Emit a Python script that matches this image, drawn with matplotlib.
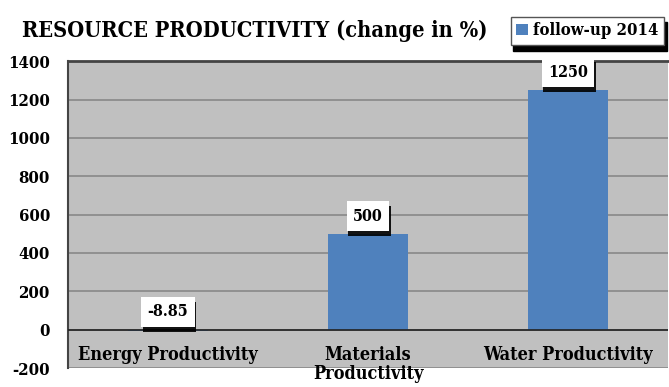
import matplotlib.pyplot as plt
import matplotlib.patheffects as pe
import numpy as np

categories = ['Energy Productivity', 'Materials\nProductivity', 'Water Productivity']
values = [-8.85, 500, 1250]
value_labels = ['-8.85', '500', '1250']
series_name = 'follow-up 2014'
yticks = [-200, 0, 200, 400, 600, 800, 1000, 1200, 1400]

FONT = dict(fontfamily='DejaVu Serif', fontweight='bold', fontstretch='condensed')
BAR = '#4f81bd'

fig = plt.figure(figsize=(6.69, 3.87), dpi=100)
ax = fig.add_axes([0.1016, 0.049, 0.897, 0.793])
ax.set_facecolor('#c0c0c0')

x = np.arange(len(categories))
bars = ax.bar(x, values, width=0.4, color=BAR, label=series_name, zorder=3)

ax.set_xlim(-0.5, 2.5)
ax.set_ylim(-200, 1400)
ax.set_yticks(yticks)
ax.set_yticklabels([str(t) for t in yticks], fontsize=12, **FONT)
ax.tick_params(axis='y', length=0, pad=13)
ax.set_xticks([])
ax.grid(axis='y', color='#888888', linewidth=1.2, zorder=1)
ax.axhline(0, color='#222222', linewidth=1.2, zorder=4)

for side in ['right', 'bottom']:
    ax.spines[side].set_visible(False)
ax.spines['left'].set_color('#444444')
ax.spines['left'].set_linewidth(1.5)
ax.spines['top'].set_color('#444444')
ax.spines['top'].set_linewidth(2)

# category labels sit inside the plot, under the zero line
for xi, cat in zip(x, categories):
    ax.text(xi, -85, cat, ha='center', va='top', fontsize=13, linespacing=1.05,
            zorder=5, clip_on=False, **FONT)

# data labels: white box with a dark drop shadow under it
shadow = [pe.SimplePatchShadow(offset=(1, -3.5), shadow_rgbFace='black', alpha=0.9), pe.Normal()]
for xi, v, lab in zip(x, values, value_labels):
    y = max(v, 0) + 48
    t = ax.text(xi, y, lab, ha='center', va='bottom', fontsize=11.5, color='black', zorder=7,
                bbox=dict(boxstyle='square,pad=0.4', fc='white', ec='none'), **FONT)
    t.get_bbox_patch().set_path_effects(shadow)

fig.text(0.033, 0.92, 'RESOURCE PRODUCTIVITY (change in %)', fontsize=15.7,
         va='center', ha='left', **FONT)

leg = fig.legend(handles=[bars], labels=[series_name], loc='center', bbox_to_anchor=(0.878, 0.92),
                 prop={'family': 'DejaVu Serif', 'weight': 'bold', 'stretch': 'condensed', 'size': 12},
                 frameon=True, fancybox=False,
                 shadow={'color': 'black', 'alpha': 1, 'ox': 2, 'oy': -4}, handlelength=0.7,
                 handleheight=0.7, handletextpad=0.3, borderpad=0.35, edgecolor='#555555')

plt.savefig('out.png', dpi=100)
